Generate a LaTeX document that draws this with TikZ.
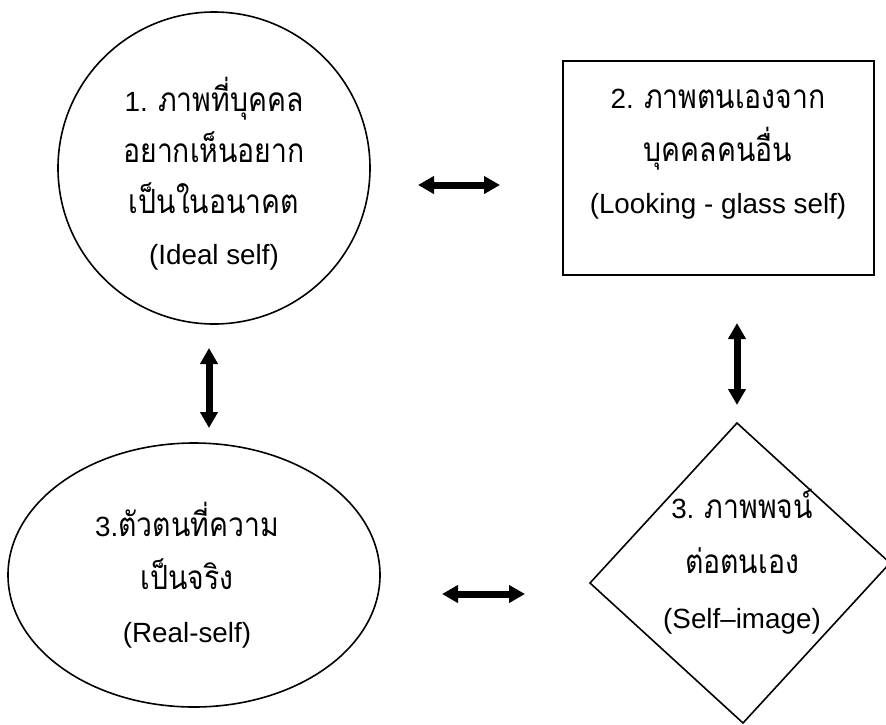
\documentclass[tikz,border=0pt]{standalone}
\usepackage{fontspec}
\setmainfont{Liberation Sans}
\newfontfamily\thaifont[Script=Thai,Scale=1.2,FakeStretch=0.85]{Loma}
\usetikzlibrary{shapes.geometric,arrows.meta}
\begin{document}
\begin{tikzpicture}[x=1pt,y=-1pt,
  dbl/.style={line width=7pt,{Triangle[length=16pt,width=17pt]}-{Triangle[length=16pt,width=17pt]}},
  txt/.style={align=center,inner sep=0pt},
  thin/.style={draw,line width=1.6pt,inner sep=0pt}]
\useasboundingbox (0,0) rectangle (886,724);
\clip (0,0) rectangle (886,724);
% shapes
\node[thin,circle,minimum size=312pt] (c1) at (214,168) {};
\node[draw,line width=2.6pt,minimum width=311pt,minimum height=214pt,inner sep=0pt] (r2) at (718.5,168) {};
\node[thin,ellipse,minimum width=372pt,minimum height=264pt] (e3) at (194,575) {};
\coordinate (dT) at (737,423);
\coordinate (dR) at (890,563);
\coordinate (dB) at (743,723);
\coordinate (dL) at (590,583);
\draw[line width=1.6pt,line join=miter] (dT) -- (dR) -- (dB) -- (dL) -- cycle;
% texts
\node[txt,font=\fontsize{27.8}{51}\selectfont] (t1) at (214,173.5)
  {1. {\thaifont ภาพที่บุคคล}\\{\thaifont อยากเห็นอยาก}\\{\thaifont เป็นในอนาคต}\\(Ideal self)};
\node[txt,font=\fontsize{27.8}{52.5}\selectfont] (t2) at (718,154.5)
  {2. {\thaifont ภาพตนเองจาก}\\{\thaifont บุคคลคนอื่น}\\(Looking - glass self)};
\node[txt,font=\fontsize{27.8}{53}\selectfont] (t3) at (187,575)
  {3.{\thaifont ตัวตนที่ความ}\\{\thaifont เป็นจริง}\\(Real-self)};
\node[txt,font=\fontsize{27.8}{55}\selectfont] (t4) at (742,562)
  {3. {\thaifont ภาพพจน์}\\{\thaifont ต่อตนเอง}\\(Self–image)};
% arrows
\coordinate (a1) at (418,185);
\coordinate (a2) at (500,185);
\coordinate (b1) at (209,348);
\coordinate (b2) at (209,428);
\coordinate (c1a) at (737,323);
\coordinate (c2a) at (737,405);
\coordinate (d1) at (442,594);
\coordinate (d2) at (525,594);
\draw[dbl] (a1) -- (a2);
\draw[dbl] (b1) -- (b2);
\draw[dbl] (c1a) -- (c2a);
\draw[dbl] (d1) -- (d2);
\end{tikzpicture}
\end{document}
